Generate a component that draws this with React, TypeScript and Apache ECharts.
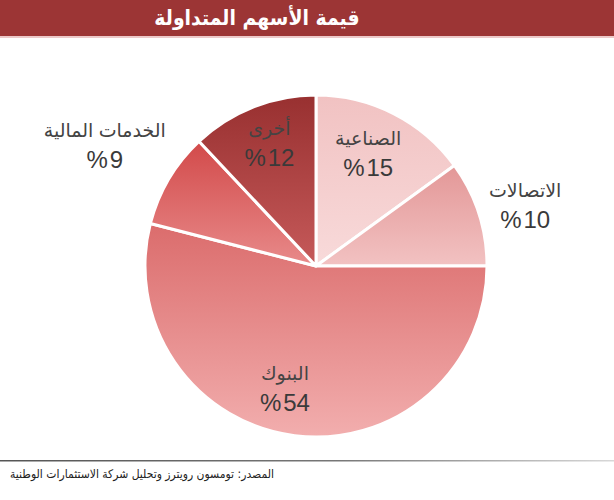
import React, { useEffect, useRef } from "react";
import * as echarts from "echarts";

const titleText = "قيمة الأسهم المتداولة";
const sourceText = "المصدر: تومسون رويترز وتحليل شركة الاستثمارات الوطنية";
const categories = ["الصناعية", "الاتصالات", "البنوك", "الخدمات المالية", "أخرى"];
const values = [15, 10, 54, 9, 12];

const sliceColors: [string, string][] = [
  ["#f1c2c2", "#f8dada"],
  ["#e39797", "#f2c2c2"],
  ["#db6c6c", "#f2aeae"],
  ["#d24a4a", "#e88a8a"],
  ["#983030", "#c65a5a"],
];
const labelOffsets: [number, number][] = [
  [12, -34],
  [125, -33],
  [-20, 35],
  [-135, -75],
  [-14, -40],
];

export default function App() {
  const ref = useRef<HTMLDivElement>(null);
  useEffect(() => {
    document.body.style.margin = "0";
    const chart = echarts.init(ref.current!, null, { renderer: "svg" });
    const font = "'Liberation Sans', 'DejaVu Sans', Arial, sans-serif";
    chart.setOption({
      animation: false,
      backgroundColor: "#ffffff",
      graphic: [
        {
          type: "rect",
          left: 0,
          top: 0,
          shape: { width: 614, height: 36 },
          style: { fill: "#9c3535" },
        },
        {
          type: "rect",
          left: 0,
          top: 36,
          shape: { width: 614, height: 2 },
          style: { fill: "#ecc9c9" },
        },
        {
          type: "text",
          x: 257,
          y: 18,
          style: {
            text: titleText,
            fill: "#ffffff",
            font: "bold 21px 'DejaVu Sans Condensed', 'DejaVu Sans', sans-serif",
            align: "center",
            verticalAlign: "middle",
          },
        },
        {
          type: "rect",
          left: 0,
          top: 460,
          shape: { width: 614, height: 1.5 },
          style: {
            fill: new echarts.graphic.LinearGradient(0, 0, 1, 0, [
              { offset: 0, color: "#555555" },
              { offset: 0.55, color: "#777777" },
              { offset: 1, color: "#d8d8d8" },
            ]),
          },
        },
        {
          type: "text",
          x: 142,
          y: 474,
          style: {
            text: sourceText,
            fill: "#222222",
            font: "12px 'DejaVu Sans Condensed', 'DejaVu Sans', sans-serif",
            align: "center",
            verticalAlign: "middle",
          },
        },
      ],
      series: [
        {
          type: "pie",
          center: [316, 266],
          radius: 171,
          startAngle: 90,
          clockwise: true,
          avoidLabelOverlap: false,
          itemStyle: { borderColor: "#ffffff", borderWidth: 3 },
          label: {
            show: true,
            position: "inside",
            formatter: (p: any) => `{n|${p.name}}\n{v|%\u200A${p.value}}`,
            rich: {
              n: { fontSize: 19, color: "#444444", fontFamily: font, lineHeight: 28, align: "center" },
              v: { fontSize: 24, color: "#3a3a3a", fontFamily: font, lineHeight: 30, align: "center" },
            },
          },
          labelLine: { show: false },
          labelLayout: (params: any) => ({
            dx: labelOffsets[params.dataIndex][0],
            dy: labelOffsets[params.dataIndex][1],
          }),
          data: categories.map((name, i) => ({
            name,
            value: values[i],
            itemStyle: {
              color: new echarts.graphic.LinearGradient(0, 0, 0, 1, [
                { offset: 0, color: sliceColors[i][0] },
                { offset: 1, color: sliceColors[i][1] },
              ]),
            },
          })),
        },
      ],
    });
    return () => chart.dispose();
  }, []);
  return <div ref={ref} style={{ width: 614, height: 500 }} />;
}
